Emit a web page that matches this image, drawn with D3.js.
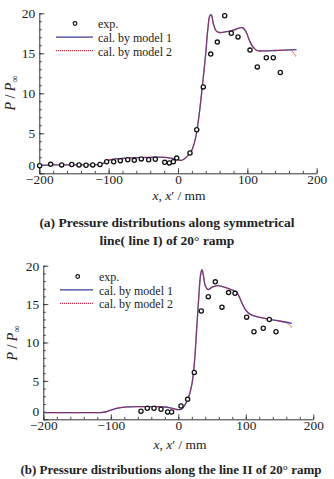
<!DOCTYPE html>
<html><head><meta charset="utf-8">
<script src="https://cdn.jsdelivr.net/npm/d3@7"></script>
<style>
html,body{margin:0;padding:0;background:#fff;}
svg{display:block;}
svg text{font-family:"Liberation Serif","Times New Roman","DejaVu Serif",serif !important;fill:#222;}
</style></head>
<body>
<svg id="chart" width="334" height="479"></svg>
<script>
// ---------- DATA ----------
const xTicks = [-200, -100, 0, 100, 200];
const yTicks = [0, 5, 10, 15, 20];
const legendLabels = ["exp.", "cal. by model 1", "cal. by model 2"];

// Panel (a)
const expA_x = [-199.5,-183.6,-167.7,-153.2,-142.7,-132.6,-123,-112.5,-102.9,-92.8,-83.2,-72.5,-63,-52.9,-42.3,-32.7,-19.2,-12.5,-6.7,-1.9,17.3,27,36.5,47.2,56.7,67.3,76.9,86.5,103.8,114.4,127.3,137.4,147.5];
const expA_y = [0.95,1.12,1.05,1.1,1.05,1.0,1.05,1.1,1.45,1.45,1.58,1.7,1.62,1.8,1.7,1.75,1.37,1.3,1.45,1.9,2.54,5.45,10.8,14.9,16.4,19.7,17.5,17.05,15.4,13.3,14.45,14.45,12.6];
const m1A_x = [-200,-180,-150,-120,-110,-103,-95,-80,-60,-40,-20,-8,0,5,10,15,20,25,30,35,40,43,46,48,51,55,60,70,80,88,93,98,103,108,114,125,140,155,171];
const m1A_y = [1.0,1.05,1.05,1.08,1.15,1.55,1.75,1.85,1.95,2.0,2.0,1.85,1.7,1.62,1.85,2.3,2.9,4.3,7.0,10.8,15.0,18.0,19.7,19.8,18.7,17.8,17.6,17.7,17.9,18.15,18.2,17.7,16.6,15.8,15.35,15.3,15.35,15.4,15.45];
const m2A_x = [-200,-180,-150,-120,-110,-103,-95,-80,-60,-40,-20,-8,0,5,10,15,20,25,30,35,40,43,46,48,51,55,60,70,80,88,93,98,103,108,114,125,140,155,163,166,170];
const m2A_y = [1.0,1.05,1.05,1.08,1.15,1.55,1.75,1.85,1.95,2.0,2.0,1.85,1.7,1.62,1.85,2.3,2.9,4.3,7.0,10.8,15.0,18.0,19.7,19.8,18.7,17.8,17.6,17.7,17.9,18.15,18.2,17.7,16.6,15.8,15.35,15.3,15.35,15.4,15.4,15.1,14.6];

// Panel (b)
const expB_x = [-55.3,-45.9,-36,-25.6,-15.8,-9.9,4,13.8,23.7,34.1,44.4,54.8,64.7,74.5,84,101.2,112.1,125.9,134.8,144.7];
const expB_y = [1.04,1.43,1.43,1.3,0.95,0.95,1.73,2.6,6.1,14.1,15.97,17.9,14.6,16.5,16.4,13.3,11.4,11.85,13.0,11.4];
const m1B_x = [-200,-150,-115,-108,-100,-90,-80,-60,-40,-20,-10,0,5,10,15,20,24,27,30,33,35,37,40,44,50,58,68,78,86,90,95,100,106,115,130,150,168];
const m1B_y = [0.88,0.88,0.88,0.95,1.2,1.45,1.58,1.65,1.65,1.6,1.45,1.25,1.35,1.9,2.8,4.5,7.5,11.5,15.5,18.8,19.5,18.8,17.4,16.9,17.2,17.4,17.2,16.9,16.6,16.0,15.0,14.2,13.7,13.4,13.1,12.8,12.5];
const m2B_x = [-200,-150,-115,-108,-100,-90,-80,-60,-40,-20,-10,0,5,10,15,20,24,27,30,33,35,37,40,44,50,58,68,78,86,90,95,100,106,115,130,150,160,165,168];
const m2B_y = [0.88,0.88,0.88,0.95,1.2,1.45,1.58,1.65,1.65,1.6,1.45,1.25,1.35,1.9,2.8,4.5,7.5,11.5,15.5,18.8,19.5,18.8,17.4,16.9,17.2,17.4,17.2,16.9,16.6,16.0,15.0,14.2,13.7,13.4,13.1,12.8,12.6,12.3,11.9];

const captionA = ["(a) Pressure distributions along symmetrical", "line( line I) of 20° ramp"];
const captionB = ["(b) Pressure distributions along the line II of 20° ramp"];

// ---------- DRAW ----------
const svg = d3.select("#chart");
const zip = (xs, ys) => xs.map((x, i) => [x, ys[i]]);
const SERIF = '"Liberation Serif","Times New Roman",serif';

function panel(cfg) {
  const g = svg.append("g").style("font-family", SERIF);
  const x = d3.scaleLinear().domain([-200, 200]).range([cfg.x0, cfg.x1]);
  const y = d3.scaleLinear().domain([0, 20]).range([cfg.y0, cfg.y1]);

  // minor ticks
  g.append("g").attr("transform", `translate(0,${cfg.y0})`)
    .call(d3.axisBottom(x).tickValues(d3.range(-200, 201, 20)).tickSize(-2.5).tickFormat(""))
    .call(a => a.select(".domain").remove());
  g.append("g").attr("transform", `translate(${cfg.x0},0)`)
    .call(d3.axisLeft(y).tickValues(d3.range(0, 21, 1)).tickSize(-2.5).tickFormat(""))
    .call(a => a.select(".domain").remove());
  // major
  const xa = g.append("g").attr("transform", `translate(0,${cfg.y0})`)
    .call(d3.axisBottom(x).tickValues(xTicks).tickSize(-5).tickPadding(1.5).tickSizeOuter(0));
  xa.attr("font-family", null);
  xa.selectAll("text").attr("font-size", 13.3).attr("dy", "0.72em").style("font-family", SERIF).attr("fill", "#222");
  const ya = g.append("g").attr("transform", `translate(${cfg.x0},0)`)
    .call(d3.axisLeft(y).tickValues(yTicks).tickSize(-5).tickPadding(4).tickSizeOuter(0));
  ya.attr("font-family", null);
  ya.selectAll("text").attr("font-size", 13.5).style("font-family", SERIF).attr("fill", "#222");
  ya.selectAll(".tick").filter(d => d === 0).select("text").attr("dy", "-0.3em").attr("x", -4);
  g.selectAll(".tick line").attr("stroke", "#333").attr("stroke-width", 0.9);
  g.selectAll(".domain").attr("stroke", "#333").attr("stroke-width", 1);

  const line = d3.line().x(d => x(d[0])).y(d => y(d[1])).curve(d3.curveCatmullRom.alpha(0.5));
  g.append("path").attr("d", line(zip(cfg.m1x, cfg.m1y)))
    .attr("fill", "none").attr("stroke", "#3a3d96").attr("stroke-width", 1.3);
  g.append("path").attr("d", line(zip(cfg.m2x, cfg.m2y)))
    .attr("fill", "none").attr("stroke", "#d0304a").attr("stroke-opacity", 0.65)
    .attr("stroke-width", 1.3).attr("stroke-dasharray", "1.2,0.6");

  g.selectAll("circle.e").data(zip(cfg.ex, cfg.ey)).join("circle")
    .attr("cx", d => x(d[0])).attr("cy", d => y(d[1])).attr("r", 2.1)
    .attr("fill", "#fff").attr("stroke", "#111").attr("stroke-width", 1.3);

  // legend
  const L = cfg.leg;
  g.append("circle").attr("cx", L.sx).attr("cy", L.y0).attr("r", 1.8)
    .attr("fill", "#fff").attr("stroke", "#111").attr("stroke-width", 1.2);
  g.append("line").attr("x1", L.lx0).attr("x2", L.lx1).attr("y1", L.y0 + L.dy).attr("y2", L.y0 + L.dy)
    .attr("stroke", "#3a3d96").attr("stroke-width", 1.4);
  g.append("line").attr("x1", L.lx0).attr("x2", L.lx1).attr("y1", L.y0 + 2 * L.dy).attr("y2", L.y0 + 2 * L.dy)
    .attr("stroke", "#d0304a").attr("stroke-width", 1.3).attr("stroke-dasharray", "1.2,0.8");
  legendLabels.forEach((t, i) => {
    g.append("text").attr("x", L.tx).attr("y", L.y0 + i * L.dy).attr("dy", "0.4em")
      .attr("font-size", 12).text(t);
  });

  // y label
  const yl = g.append("text").attr("transform", `translate(${cfg.ylx},${cfg.yly}) rotate(-90)`)
    .attr("text-anchor", "middle").attr("font-size", 14);
  yl.append("tspan").attr("font-style", "italic").text("P");
  yl.append("tspan").text(" / ");
  yl.append("tspan").attr("font-style", "italic").text("P");
  yl.append("tspan").attr("font-size", 10).attr("dy", 3).text("∞");

  // x label
  const xl = g.append("text").attr("x", cfg.xlx).attr("y", cfg.xly).attr("text-anchor", "middle").attr("font-size", 13.5);
  xl.append("tspan").attr("font-style", "italic").text("x");
  xl.append("tspan").text(", ");
  xl.append("tspan").attr("font-style", "italic").text("x");
  xl.append("tspan").text("′ / mm");

  cfg.cap.forEach((c, i) => {
    g.append("text").attr("x", cfg.capx).attr("y", cfg.capy + i * cfg.capdy)
      .attr("text-anchor", "middle").attr("font-size", cfg.capfs).attr("font-weight", "bold").text(c);
  });
}

panel({
  x0: 39.3, x1: 316.7, y0: 173.3, y1: 13.3,
  ex: expA_x, ey: expA_y, m1x: m1A_x, m1y: m1A_y, m2x: m2A_x, m2y: m2A_y,
  leg: { sx: 75, y0: 23.5, dy: 13.6, lx0: 56, lx1: 93, tx: 98 },
  ylx: 15, yly: 93, xlx: 179, xly: 200,
  cap: captionA, capx: 167, capy: 227, capdy: 18, capfs: 13.5
});
panel({
  x0: 43.3, x1: 313.3, y0: 419.3, y1: 265.7,
  ex: expB_x, ey: expB_y, m1x: m1B_x, m1y: m1B_y, m2x: m2B_x, m2y: m2B_y,
  leg: { sx: 77.7, y0: 276.5, dy: 13.4, lx0: 60, lx1: 93, tx: 99 },
  ylx: 17, yly: 343, xlx: 180, xly: 448.5,
  cap: captionB, capx: 171, capy: 474, capdy: 18, capfs: 13
});
</script>
</body></html>
